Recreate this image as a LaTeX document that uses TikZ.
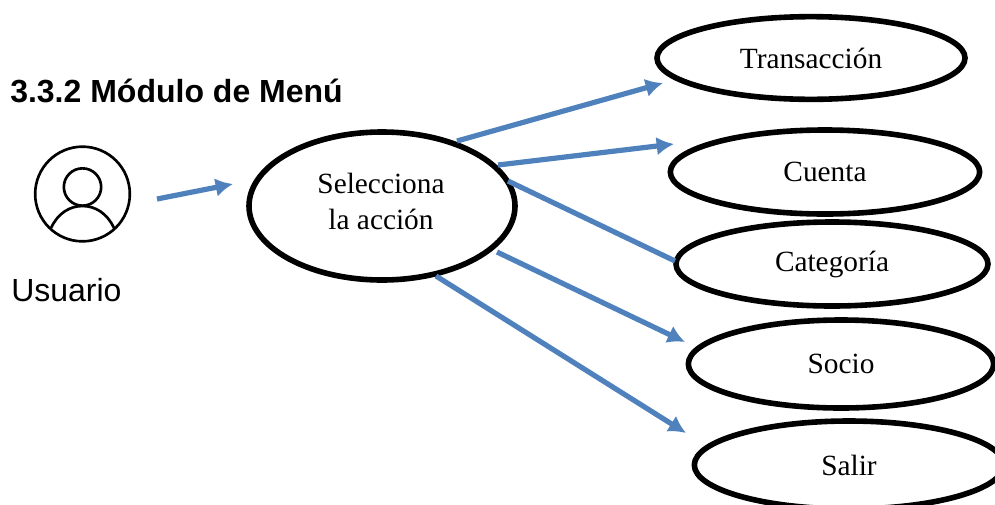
\documentclass[tikz,border=0pt]{standalone}
\usepackage{fontspec}
\setmainfont{Liberation Serif}
\newfontfamily\arialfont{Liberation Sans}
\usetikzlibrary{arrows.meta,shapes.geometric}
\definecolor{azul}{HTML}{4F81BD}
\tikzset{
    caso/.style={draw,ellipse,line width=4.2pt,inner sep=0pt,font=\fontsize{22}{28}\selectfont},
    linea/.style={azul,line width=3.9pt},
    flecha/.style={linea,-{Latex[length=13pt,width=14pt]}},
    icono/.style={line width=2pt}
}
\begin{document}
\begin{tikzpicture}[x=0.75pt,y=-0.75pt]
    \useasboundingbox (0,0) rectangle (995,504);
    \node[anchor=base west,font=\arialfont\bfseries\fontsize{24}{28}\selectfont,inner sep=0pt] (titulo) at (10,102.5) {3.3.2 Módulo de Menú};
    \node[anchor=base west,font=\arialfont\fontsize{24}{28}\selectfont,inner sep=0pt] (usuario) at (11,301) {Usuario};
    % icono
    \node[draw,circle,icono,minimum size=71pt,inner sep=0pt] (cara) at (82.5,194) {};
    \node[draw,circle,icono,minimum size=28pt,inner sep=0pt] (cabeza) at (82.5,187) {};
    \draw[icono] (51,228) .. controls (58,213) and (70,206) .. (82.5,206) .. controls (95,206) and (107,213) .. (114,228);
    % casos
    \node[caso,minimum width=199.5pt,minimum height=111pt,align=center] (accion) at (382,206) {};
    \node[font=\fontsize{22}{28}\selectfont,align=center] (accionA) at (381,183) {Selecciona};
    \node[font=\fontsize{22}{28}\selectfont,align=center] (accionB) at (381,219) {la acción};
    \node[caso,minimum width=231pt,minimum height=62pt] (transaccion) at (811,58) {Transacción};
    \node[caso,minimum width=232pt,minimum height=63pt] (cuenta) at (825,172) {Cuenta};
    \node[caso,minimum width=234pt,minimum height=63pt] (categoria) at (832,264) {Categoría};
    \node[caso,minimum width=229pt,minimum height=66pt] (socio) at (841,364) {Socio};
    \node[caso,minimum width=232pt,minimum height=66pt] (salir) at (849,465) {Salir};
    % flechas
    \coordinate (a0) at (157,199);
    \coordinate (a1) at (233,184);
    \coordinate (b0) at (457,141);
    \coordinate (b1) at (663,83);
    \coordinate (c0) at (498,165);
    \coordinate (c1) at (674,144);
    \coordinate (d0) at (508,181);
    \coordinate (d1) at (675,261);
    \coordinate (e0) at (497,252);
    \coordinate (e1) at (685,342);
    \coordinate (f0) at (436,276);
    \coordinate (f1) at (686,433);
    \draw[flecha] (a0) -- (a1);
    \draw[flecha] (b0) -- (b1);
    \draw[flecha] (c0) -- (c1);
    \draw[linea] (d0) -- (d1);
    \draw[flecha] (e0) -- (e1);
    \draw[flecha] (f0) -- (f1);
\end{tikzpicture}
\end{document}
